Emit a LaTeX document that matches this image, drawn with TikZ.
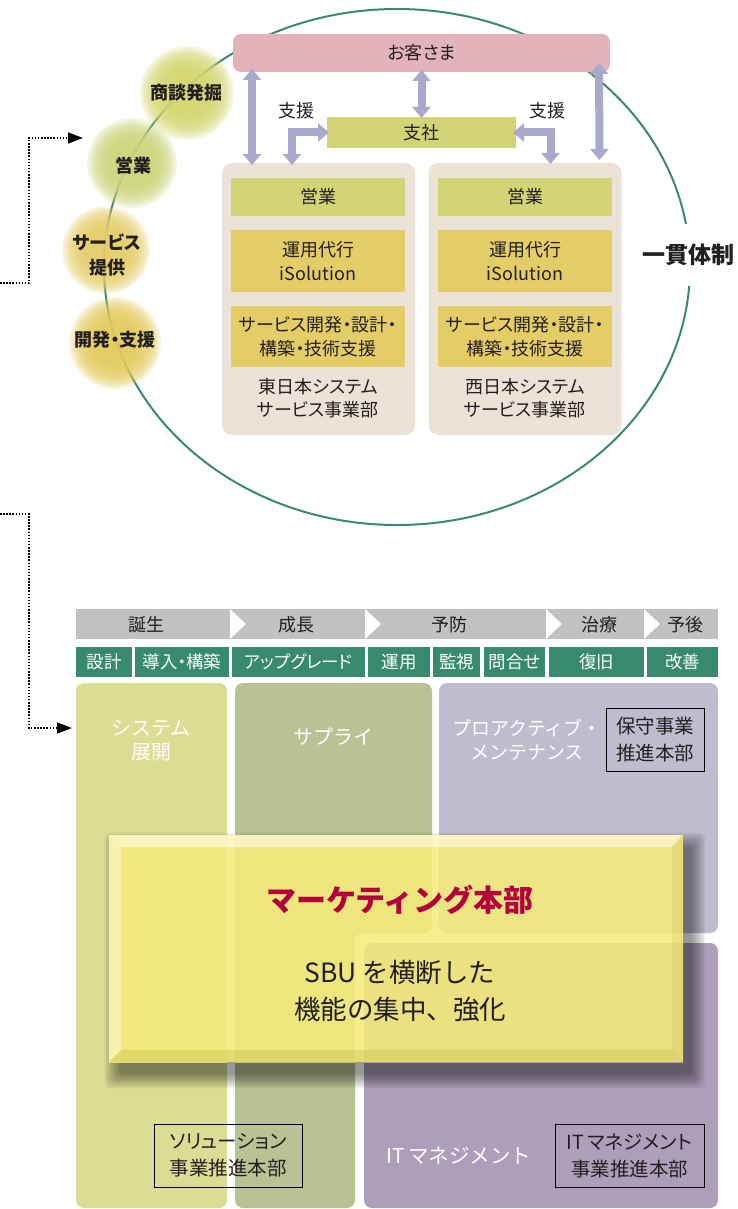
\documentclass[tikz,border=0pt]{standalone}
\usepackage{fontspec}
\setmainfont{Noto Sans CJK JP}[RawFeature=+palt]
\newfontfamily\fw{Noto Sans CJK JP}
\usetikzlibrary{arrows.meta,calc}
\definecolor{kyakuC}{HTML}{E3B3BB}
\definecolor{lgreen}{HTML}{D2D475}
\definecolor{ochre}{HTML}{E4CD66}
\definecolor{panelC}{HTML}{ECE3D8}
\definecolor{arrowC}{HTML}{A9A9CD}
\definecolor{ringC}{HTML}{3A8A6C}
\definecolor{txt}{HTML}{231F20}
\definecolor{hdrC}{HTML}{C1C1C1}
\definecolor{cellC}{HTML}{378A6E}
\definecolor{sysC}{HTML}{DDDC95}
\definecolor{supC}{HTML}{B9C293}
\definecolor{proC}{HTML}{C0BCCF}
\definecolor{itC}{HTML}{AD9FB9}
\definecolor{mkC}{HTML}{F6ED78}
\definecolor{bevD}{HTML}{CFC455}
\definecolor{crim}{HTML}{B4003C}
\definecolor{glowA}{HTML}{D3D66E}
\definecolor{glowB}{HTML}{CBD479}
\definecolor{glowC}{HTML}{E4CC66}
\definecolor{glowD}{HTML}{E3CA5C}
\newcommand{\fsz}[2]{\fontsize{#1}{#2}\selectfont}
\newcommand{\glowat}[4]{\foreach \k in {0,...,13}{\fill[#3,opacity=0.19] (#1,#2) circle[radius={(#4-2*\k)*1pt}];}}
\newcommand{\blockfills}{%
  \fill[sysC,rounded corners=8pt] (76,683) rectangle (227,1208);
  \fill[supC,rounded corners=8pt] (235,683) -- (432,683) -- (432,933) -- (355,933) -- (355,1208) -- (235,1208) -- cycle;
  \fill[proC,rounded corners=8pt] (439,683) rectangle (718,933);
  \fill[itC,rounded corners=8pt] (364,943) rectangle (718,1208);}
\begin{document}
\begin{tikzpicture}[x=1pt,y=-1pt,
  every node/.style={inner sep=0pt,outer sep=0pt,text=txt,align=center},
  tbox/.style={minimum width=174pt,font=\fsz{18}{23.5}},
  panel/.style={fill=panelC,rounded corners=10pt,minimum width=193pt,minimum height=272pt},
  glowtxt/.style={font=\bfseries\fsz{18}{25}},
  cell/.style={fill=cellC,text=white,minimum height=30pt,font=\fsz{17.5}{20}},
  phase/.style={font=\fsz{18}{20}},
  blk/.style={text=white,font=\fw\fsz{20}{24}},
  obox/.style={draw=black,line width=0.9pt,minimum height=63pt,font=\fsz{19.5}{27}},
  bigarrow/.style={draw=arrowC,line width=8pt,{Triangle[width=18pt,length=11pt]}-{Triangle[width=18pt,length=11pt]}},
  dotarrow/.style={draw=black,line width=1.5pt,dash pattern=on 1.5pt off 1.6pt,-{Triangle[length=15pt,width=11pt]}}
]
\useasboundingbox (0,0) rectangle (738,1209);

% ---------- upper part ----------
\draw[ringC,line width=2pt] (397,267) ellipse [x radius=293pt,y radius=258pt];

\glowat{187}{93}{glowA}{47}
\glowat{132}{163}{glowB}{45}
\glowat{106}{250}{glowC}{44}
\glowat{115}{343}{glowD}{46}
\node[glowtxt] (g1) at (186,93) {商談発掘};
\node[glowtxt] (g2) at (133,166) {営業};
\node[glowtxt] (g3) at (107,254.5) {サービス\\提供};
\node[glowtxt] (g4) at (115,340) {開発・支援};

\node[fill=kyakuC,rounded corners=8pt,minimum width=377pt,minimum height=38pt,font=\fsz{18}{20}] (kyaku) at (421.5,53) {お客さま};
\node[fill=lgreen,minimum width=189pt,minimum height=31pt,font=\fsz{18}{20}] (shisha) at (421.5,132.5) {支社};

\node[panel] (eastp) at (318.5,299) {};
\node[panel] (westp) at (525,299) {};

\node[tbox,fill=lgreen,minimum height=38pt] (e1) at (318,197) {営業};
\node[tbox,fill=ochre,minimum height=62pt] (e2) at (318,261) {運用代行\\iSolution};
\node[tbox,fill=ochre,minimum height=61pt] (e3) at (318,336.5) {サービス開発・設計・\\構築・技術支援};
\node[tbox] (e4) at (318,398) {東日本システム\\サービス事業部};

\node[tbox,fill=lgreen,minimum height=38pt] (w1) at (525,197) {営業};
\node[tbox,fill=ochre,minimum height=62pt] (w2) at (525,261) {運用代行\\iSolution};
\node[tbox,fill=ochre,minimum height=61pt] (w3) at (525,336.5) {サービス開発・設計・\\構築・技術支援};
\node[tbox] (w4) at (525,398) {西日本システム\\サービス事業部};

\draw[bigarrow] ([xshift=19pt,yshift=3pt]kyaku.south west) -- ([xshift=30pt,yshift=-2pt]eastp.north west);
\draw[bigarrow] ([yshift=2pt]kyaku.south) -- ([yshift=-1pt]shisha.north);
\draw[bigarrow] ([xshift=-11pt,yshift=9pt]kyaku.south east) -- ([xshift=-22pt,yshift=3pt]westp.north east);
\draw[bigarrow] ([xshift=2pt]shisha.west) -| ([xshift=70pt,yshift=-2pt]eastp.north west);
\draw[bigarrow] ([xshift=-3pt]shisha.east) -| ([xshift=-71pt,yshift=-1pt]westp.north east);

\node[font=\fsz{18}{20}] (s1) at (296,111) {支援};
\node[font=\fsz{18}{20}] (s2) at (547,111) {支援};

\node[fill=white,inner xsep=2pt,inner ysep=20pt,font=\bfseries\fsz{23}{26}] (ikkan) at (688,255) {一貫体制};

% dotted connectors
\coordinate (d1s) at (0,283);
\coordinate (d1m) at (29,283);
\coordinate (d1e) at (83,138);
\draw[dotarrow] (d1s) -- (d1m) |- (d1e);
\coordinate (d2s) at (0,514);
\coordinate (d2m) at (29,514);
\coordinate (d2e) at (72,728);
\draw[dotarrow] (d2s) -- (d2m) |- (d2e);

% ---------- lower part ----------
\node[fill=hdrC,minimum width=642pt,minimum height=30pt] (hdr) at (397,624) {};
\foreach \cx in {230,365,546,644}{\fill[white] (\cx,609) -- (\cx+16,624) -- (\cx,639) -- cycle;}
\node[phase] (p1) at (146,625) {誕生};
\node[phase] (p2) at (296,625) {成長};
\node[phase] (p3) at (449,625) {予防};
\node[phase] (p4) at (599,625) {治療};
\node[phase] (p5) at (685,625) {予後};

\node[cell,minimum width=56pt] (c1) at (104,662) {設計};
\node[cell,minimum width=94pt] (c2) at (182,662) {導入・構築};
\node[cell,minimum width=133pt] (c3) at (298.5,662) {アップグレード};
\node[cell,minimum width=62pt] (c4) at (399,662) {運用};
\node[cell,minimum width=47pt] (c5) at (456.5,662) {監視};
\node[cell,minimum width=61pt] (c6) at (514.5,662) {問合せ};
\node[cell,minimum width=95pt] (c7) at (596.5,662) {復旧};
\node[cell,minimum width=71pt] (c8) at (682.5,662) {改善};

\blockfills

\node[blk] (t1) at (151,741) {システム\\展開};
\node[blk] (t2) at (333,737) {サプライ};
\node[blk,font=\fw\fsz{19}{24}] (t3) at (527,740) {プロアクティブ・\\メンテナンス};
\node[blk,font=\fw\fsz{20.5}{24}] (t4) at (459,1156) {IT\,マネジメント};
\node[obox,minimum width=98pt] (b1) at (655,739.5) {保守事業\\推進本部};
\node[obox,minimum width=148pt] (b2) at (228,1155.5) {ソリューション\\事業推進本部};
\node[obox,minimum width=149pt] (b3) at (629.5,1155.5) {IT\,マネジメント\\事業推進本部};

% marketing box shadow
\foreach \s in {0,...,9}{\fill[black,opacity=0.05,rounded corners=6pt] ({119-\s*1.6},{847-\s*1.6}) rectangle ({691+\s*1.6},{1074+\s*1.6});}
\begin{scope}
  \clip (109,835) rectangle (683,1062);
  \fill[white] (109,835) rectangle (683,1062);
  \blockfills
\end{scope}
\node[fill=mkC,fill opacity=0.85,minimum width=574pt,minimum height=227pt] (mkbox) at (396,948.5) {};
\fill[white,opacity=0.5] (109,835) -- (683,835) -- (672,847) -- (121,847) -- cycle;
\fill[white,opacity=0.4] (109,835) -- (121,847) -- (121,1050) -- (109,1062) -- cycle;
\fill[bevD,opacity=0.45] (109,1062) -- (121,1050) -- (672,1050) -- (683,1062) -- cycle;
\fill[bevD,opacity=0.3] (683,835) -- (683,1062) -- (672,1050) -- (672,847) -- cycle;
\node[text=crim,font=\fw\bfseries\fsz{30}{34}] (mk) at (400,900) {マーケティング本部};
\node[font=\fw\fsz{26.5}{37}] (mk2) at (400,991.5) {SBU を横断した\\機能の集中、強化};
\end{tikzpicture}
\end{document}
